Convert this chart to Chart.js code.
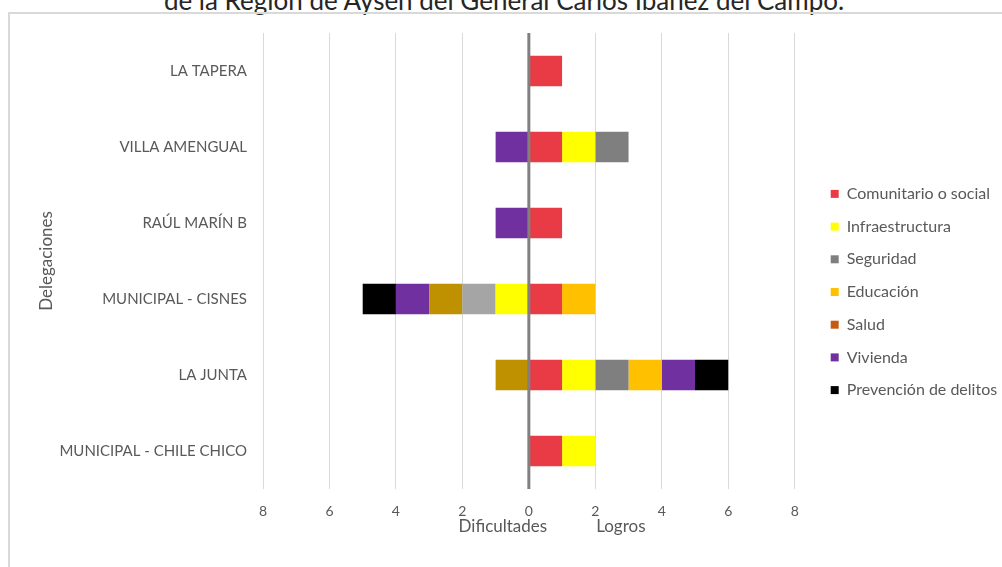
<!DOCTYPE html>
<html>
<head>
<meta charset="utf-8">
<script src="https://cdn.jsdelivr.net/npm/chart.js@4.4.1/dist/chart.umd.min.js"></script>
<style>
    body { margin: 0; background: #fff; width: 1002px; height: 567px; overflow: hidden; position: relative; }
    #title { position: absolute; top: -15px; left: 0; width: 1008px; text-align: center;
             font-family: Lato, sans-serif; font-size: 26px; line-height: 30px; color: #262626; white-space: nowrap; }
    #frame { position: absolute; left: 8px; top: 12px; width: 1000px; height: 560px;
             border-left: 2px solid #d9d9d9; border-top: 2px solid #d9d9d9; }
    #chart-container { position: absolute; left: 0; top: 0; width: 1002px; height: 567px; }
</style>
</head>
<body>
<div id="title">de la Región de Aysén del General Carlos Ibáñez del Campo.</div>
<div id="frame"></div>
<div id="chart-container"><canvas id="delegaciones-chart"></canvas></div>
<script>
    // delegaciones, de arriba hacia abajo
    const DELEGACIONES = ['LA TAPERA', 'VILLA AMENGUAL', 'RAÚL MARÍN B', 'MUNICIPAL - CISNES', 'LA JUNTA', 'MUNICIPAL - CHILE CHICO'];
    const X_TICKS = [-8, -6, -4, -2, 0, 2, 4, 6, 8];

    // logros (lado derecho)
    const COMUNITARIO = [1, 1, 1, 1, 1, 1];
    const INFRAESTRUCTURA = [0, 1, 0, 0, 1, 1];
    const SEGURIDAD = [0, 1, 0, 0, 1, 0];
    const EDUCACION = [0, 0, 0, 1, 1, 0];
    const SALUD = [0, 0, 0, 0, 0, 0];
    const VIVIENDA = [0, 0, 0, 0, 1, 0];
    const PREVENCION = [0, 0, 0, 0, 1, 0];

    // dificultades (lado izquierdo)
    const DIF_INFRAESTRUCTURA = [0, 0, 0, -1, 0, 0];
    const DIF_GRIS = [0, 0, 0, -1, 0, 0];
    const DIF_OCRE = [0, 0, 0, -1, -1, 0];
    const DIF_VIVIENDA = [0, -1, -1, -1, 0, 0];
    const DIF_PREVENCION = [0, 0, 0, -1, 0, 0];

    const TEXT_COLOR = '#595959';
    const FONT = 'Lato, sans-serif';

    function serie(label, data, color, inLegend) {
        return {
            label: label,
            data: data.map((v) => v === 0 ? null : v),
            backgroundColor: color,
            borderWidth: 0,
            inLegend: inLegend,
            categoryPercentage: 0.8,
            barPercentage: 0.5,
        };
    }

    var datasets = [
        serie('Comunitario o social', COMUNITARIO, '#E93B46', true),
        serie('Infraestructura', INFRAESTRUCTURA, '#FFFF00', true),
        serie('Infraestructura dificultades', DIF_INFRAESTRUCTURA, '#FFFF00', false),
        serie('Seguridad', SEGURIDAD, '#7F7F7F', true),
        serie('Otros dificultades', DIF_GRIS, '#A5A5A5', false),
        serie('Educación', EDUCACION, '#FFC000', true),
        serie('Otros 2 dificultades', DIF_OCRE, '#BF9000', false),
        serie('Salud', SALUD, '#C55A11', true),
        serie('Vivienda', VIVIENDA, '#7030A0', true),
        serie('Vivienda dificultades', DIF_VIVIENDA, '#7030A0', false),
        serie('Prevención de delitos', PREVENCION, '#000000', true),
        serie('Prevención dificultades', DIF_PREVENCION, '#000000', false),
    ];

    // linea del cero encima de las barras + textos bajo el eje
    const zeroLinePlugin = {
        id: 'zeroLine',
        afterDatasetsDraw(chart) {
            var x = chart.scales.x.getPixelForValue(0);
            var ctx = chart.ctx;
            ctx.save();
            ctx.strokeStyle = '#808080';
            ctx.lineWidth = 3;
            ctx.beginPath();
            ctx.moveTo(x, chart.chartArea.top);
            ctx.lineTo(x, chart.chartArea.bottom);
            ctx.stroke();
            ctx.restore();
        },
        afterDraw(chart) {
            var x = chart.scales.x.getPixelForValue(0);
            var ctx = chart.ctx;
            ctx.save();
            ctx.fillStyle = TEXT_COLOR;
            ctx.font = '17px ' + FONT;
            ctx.textBaseline = 'middle';
            ctx.textAlign = 'center';
            ctx.fillText('Dificultades', x - 26, 527);
            ctx.fillText('Logros', x + 92, 527);
            ctx.restore();
        }
    };

    var canvas = document.getElementById('delegaciones-chart');
    var chart = new Chart(canvas.getContext('2d'), {
        type: 'bar',
        data: { labels: DELEGACIONES, datasets: datasets },
        plugins: [zeroLinePlugin],
        options: {
            indexAxis: 'y',
            responsive: true,
            maintainAspectRatio: false,
            animation: false,
            layout: { padding: { left: 36, top: 33, right: 0, bottom: 16 } },
            scales: {
                x: {
                    stacked: true,
                    min: -8,
                    max: 8,
                    afterBuildTicks: (axis) => { axis.ticks = X_TICKS.map((v) => ({ value: v })); },
                    afterFit: (axis) => { axis.height = 62; },
                    border: { display: false },
                    grid: { color: '#D9D9D9', lineWidth: 1, drawTicks: false },
                    ticks: {
                        callback: (v) => Math.abs(v),
                        color: TEXT_COLOR,
                        font: { family: FONT, size: 14 },
                        padding: 14,
                    },
                },
                y: {
                    stacked: true,
                    afterFit: (axis) => { axis.width = 263 - 36; },
                    border: { display: false },
                    grid: { display: false, drawTicks: false },
                    ticks: {
                        color: TEXT_COLOR,
                        font: { family: FONT, size: 15 },
                        padding: 16,
                    },
                    title: {
                        display: true,
                        text: 'Delegaciones',
                        color: TEXT_COLOR,
                        font: { family: FONT, size: 17 },
                        padding: 0,
                    },
                },
                // espacio vacio entre el grafico y la leyenda
                ySpacer: {
                    type: 'category',
                    position: 'right',
                    border: { display: false },
                    grid: { display: false, drawTicks: false },
                    ticks: { display: false },
                    afterFit: (axis) => { axis.width = 19.3; },
                },
            },
            plugins: {
                tooltip: { enabled: false },
                legend: {
                    position: 'right',
                    align: 'center',
                    maxWidth: 188,
                    labels: {
                        filter: (item, data) => data.datasets[item.datasetIndex].inLegend,
                        boxWidth: 8,
                        boxHeight: 8,
                        padding: 16.7,
                        color: TEXT_COLOR,
                        font: { family: FONT, size: 16 },
                    },
                },
            },
        },
    });
</script>
</body>
</html>
